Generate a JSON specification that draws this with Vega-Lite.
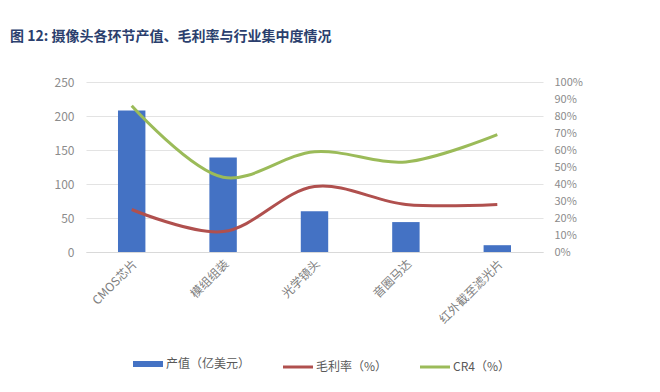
{
  "$schema": "https://vega.github.io/schema/vega-lite/v6.json",
  "width": 457,
  "height": 170,
  "autosize": "none",
  "padding": {"left": 86, "top": 82, "right": 117, "bottom": 140},
  "background": "white",
  "title": {
    "text": "图 12:  摄像头各环节产值、毛利率与行业集中度情况",
    "anchor": "start",
    "frame": "group",
    "dx": -76,
    "offset": 32,
    "font": "Noto Sans CJK SC",
    "fontSize": 14,
    "fontWeight": "bold",
    "color": "#2B3F6E"
  },
  "config": {
    "view": {"stroke": null},
    "font": "Noto Sans CJK SC"
  },
  "data": {
    "values": [
      {"cat": "CMOS芯片", "value": 208, "margin": 0.25, "cr4": 0.86},
      {"cat": "模组组装", "value": 139, "margin": 0.12, "cr4": 0.44},
      {"cat": "光学镜头", "value": 60, "margin": 0.385, "cr4": 0.59},
      {"cat": "音圈马达", "value": 44, "margin": 0.28, "cr4": 0.53},
      {"cat": "红外截至滤光片", "value": 10, "margin": 0.28, "cr4": 0.69}
    ]
  },
  "encoding": {
    "x": {
      "field": "cat",
      "type": "nominal",
      "sort": null,
      "title": null,
      "scale": {"paddingInner": 0.7, "paddingOuter": 0.35},
      "axis": {
        "labelAngle": -45,
        "labelFontSize": 12,
        "labelColor": "#7F7F7F",
        "ticks": false,
        "domainColor": "#D9D9D9",
        "labelPadding": 6
      }
    }
  },
  "layer": [
    {
      "mark": {"type": "bar", "color": "#4472C4"},
      "encoding": {
        "y": {
          "field": "value",
          "type": "quantitative",
          "title": null,
          "scale": {"domain": [0, 250]},
          "axis": {
            "values": [0, 50, 100, 150, 200, 250],
            "domain": false,
            "ticks": false,
            "labelPadding": 12,
            "labelFontSize": 12,
            "labelColor": "#8C8C8C",
            "gridColor": "#E3E3E3"
          }
        },
        "color": {
          "datum": "产值（亿美元）",
          "type": "nominal",
          "scale": {
            "domain": ["产值（亿美元）", "毛利率（%）", "CR4（%）"],
            "range": ["#4472C4", "#B0504E", "#9BBB59"]
          },
          "legend": {
            "title": null,
            "orient": "none",
            "direction": "horizontal",
            "legendX": 56,
            "legendY": 276,
            "labelFontSize": 12,
            "labelColor": "#595959",
            "labelOffset": 12,
            "columnPadding": 26,
            "symbolType": "stroke",
            "symbolSize": 900,
            "symbolStrokeWidth": 3,
            "encode": {
              "symbols": {
                "update": {
                  "shape": {"value": "stroke"},
                  "stroke": {"signal": "scale('color', datum.value)"},
                  "strokeWidth": {"signal": "datum.value == '产值（亿美元）' ? 6 : 3"},
                  "opacity": {"value": 1}
                }
              }
            }
          }
        }
      }
    },
    {
      "mark": {"type": "line", "interpolate": "catmull-rom", "strokeWidth": 3},
      "encoding": {
        "y": {
          "field": "margin",
          "type": "quantitative",
          "title": null,
          "scale": {"domain": [0, 1]},
          "axis": {
            "orient": "right",
            "format": ".0%",
            "values": [0, 0.1, 0.2, 0.3, 0.4, 0.5, 0.6, 0.7, 0.8, 0.9, 1],
            "labelOverlap": false,
            "labelBound": false,
            "grid": false,
            "domain": false,
            "ticks": false,
            "labelPadding": 11,
            "labelFontSize": 11,
            "labelColor": "#8C8C8C"
          }
        },
        "color": {"datum": "毛利率（%）", "type": "nominal"}
      }
    },
    {
      "mark": {"type": "line", "interpolate": "catmull-rom", "strokeWidth": 3},
      "encoding": {
        "y": {"field": "cr4", "type": "quantitative", "axis": null, "scale": {"domain": [0, 1]}},
        "color": {"datum": "CR4（%）", "type": "nominal"}
      }
    }
  ],
  "resolve": {"scale": {"y": "independent"}}
}
